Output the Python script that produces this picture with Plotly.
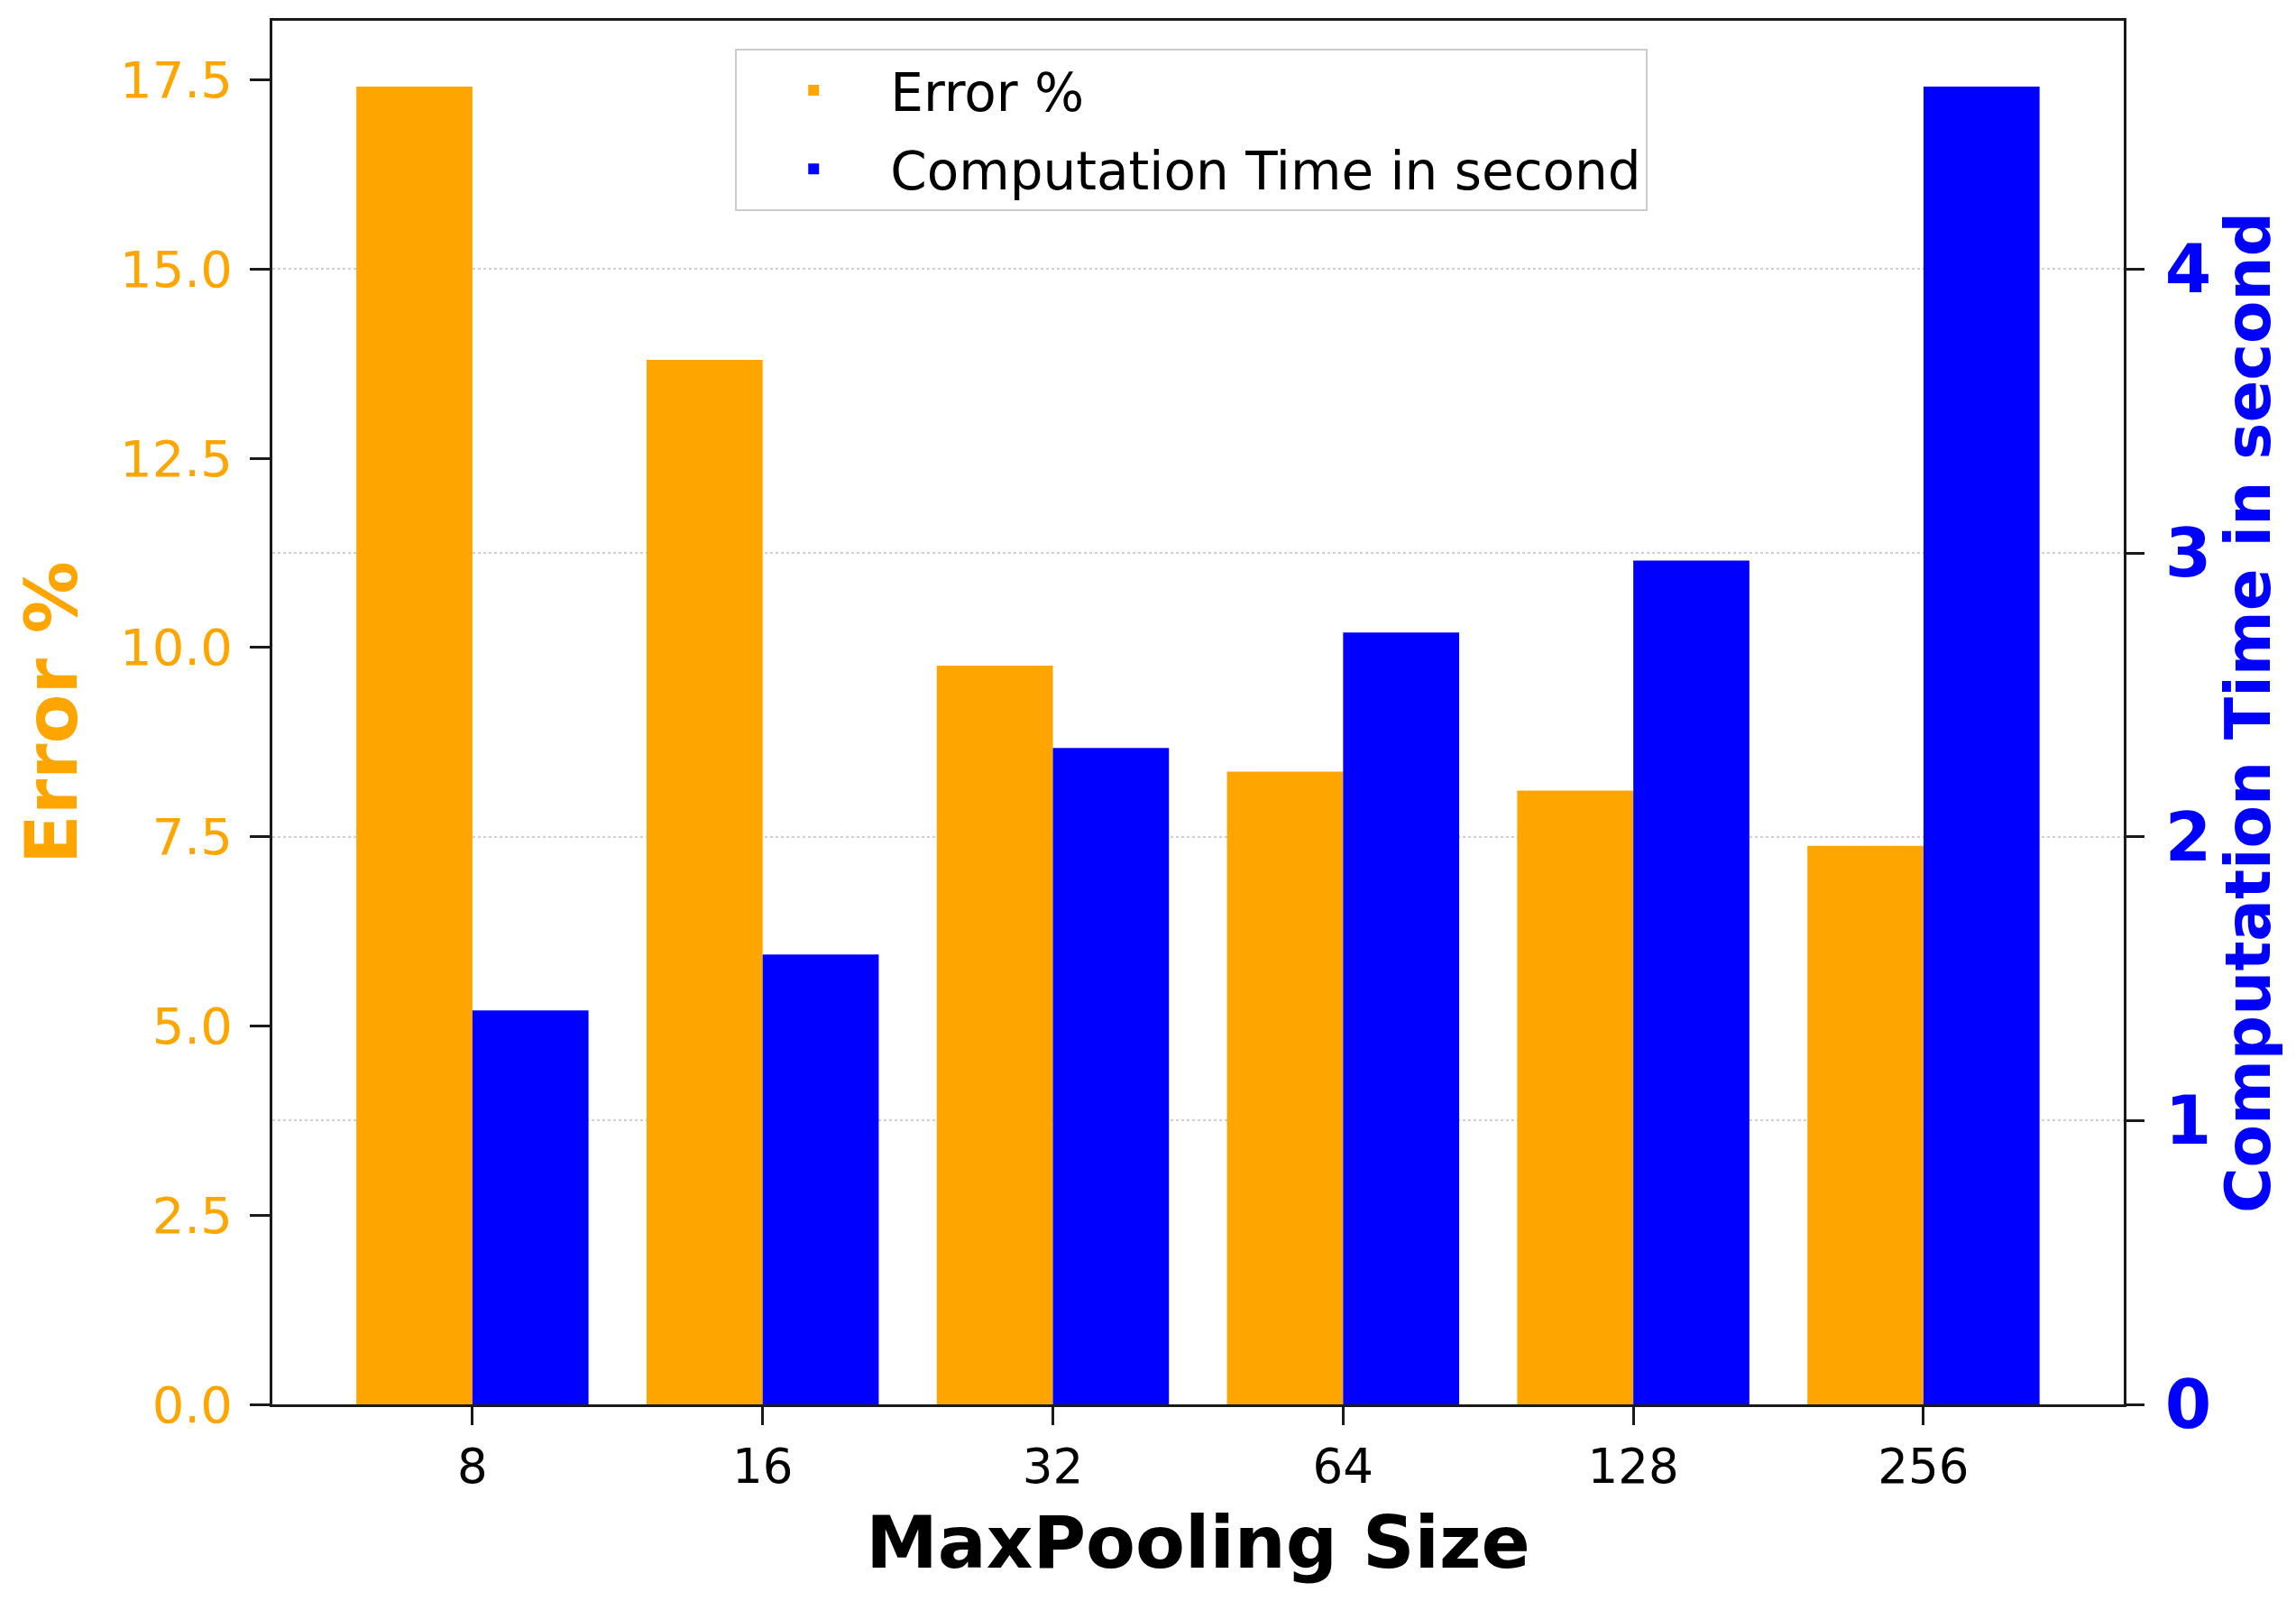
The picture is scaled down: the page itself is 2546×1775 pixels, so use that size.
import plotly.graph_objects as go

# ---- data ----
pool_sizes = ["8", "16", "32", "64", "128", "256"]
error_pct = [17.41, 13.80, 9.76, 8.36, 8.11, 7.38]
comp_time = [1.388, 1.585, 2.313, 2.72, 2.973, 4.643]
left_ticks = [0, 2.5, 5, 7.5, 10, 12.5, 15, 17.5]
right_ticks = [0, 1, 2, 3, 4]

ORANGE = "#FFA500"
BLUE = "#0000FF"
FONT = "DejaVu Sans"

fig = go.Figure()
fig.add_trace(go.Bar(
    x=pool_sizes, y=error_pct, name="Error %",
    marker=dict(color=ORANGE, line=dict(width=0)),
    width=0.4, offset=-0.4, yaxis="y", legendgroup="err",
))
fig.add_trace(go.Bar(
    x=pool_sizes, y=comp_time, name="Computation Time in second",
    marker=dict(color=BLUE, line=dict(width=0)),
    width=0.4, offset=0.0, yaxis="y2", legendgroup="time",
))

emax = max(error_pct) * 1.05
tmax = max(comp_time) * 1.05

fig.update_layout(
    width=2538, height=1767,
    margin=dict(l=294, r=191, t=15, b=218, autoexpand=False),
    paper_bgcolor="white", plot_bgcolor="white",
    font=dict(family=FONT, color="black"),
    barmode="overlay",
    showlegend=True,
    legend=dict(
        x=0.25, y=0.98, xanchor="left", yanchor="top",
        bgcolor="rgba(255,255,255,0.9)", bordercolor="#cccccc", borderwidth=2,
        font=dict(family=FONT, size=58, color="black"),
        traceorder="grouped", tracegroupgap=9, itemwidth=160,
    ),
    xaxis=dict(
        type="category", categoryorder="array", categoryarray=pool_sizes,
        range=[-0.6895, 5.69],
        showline=True, linecolor="#1a1a1a", linewidth=3, mirror=True,
        ticks="outside", ticklen=20, tickwidth=3, tickcolor="#1a1a1a",
        tickfont=dict(family=FONT, size=53, color="black"),
        showgrid=False, zeroline=False,
        title=dict(text="<b>MaxPooling Size</b>", font=dict(family=FONT, size=80, color="black"), standoff=28),
    ),
    yaxis=dict(
        range=[0, emax],
        tickvals=left_ticks, tickformat=".1f",
        showline=True, linecolor="#1a1a1a", linewidth=3,
        ticks="outside", ticklen=22, tickwidth=3, tickcolor="#1a1a1a",
        tickfont=dict(family=FONT, size=56, color=ORANGE),
        ticklabelstandoff=8,
        showgrid=False, zeroline=False,
        title=dict(text="<b>Error %</b>", font=dict(family=FONT, size=80, color=ORANGE), standoff=22),
    ),
    yaxis2=dict(
        range=[0, tmax], overlaying="y", side="right",
        tickvals=right_ticks,
        showline=True, linecolor="#1a1a1a", linewidth=3,
        ticks="outside", ticklen=20, tickwidth=3, tickcolor="#1a1a1a",
        tickfont=dict(family=FONT, size=74, color=BLUE, weight="bold"),
        ticklabelstandoff=8,
        showgrid=True, gridcolor="#cfcfcf", gridwidth=2, griddash="dot",
        zeroline=False,
        title=dict(text="<b>Computation Time in second</b>", font=dict(family=FONT, size=69, color=BLUE), standoff=18),
    ),
)

fig.write_html("out.html")
